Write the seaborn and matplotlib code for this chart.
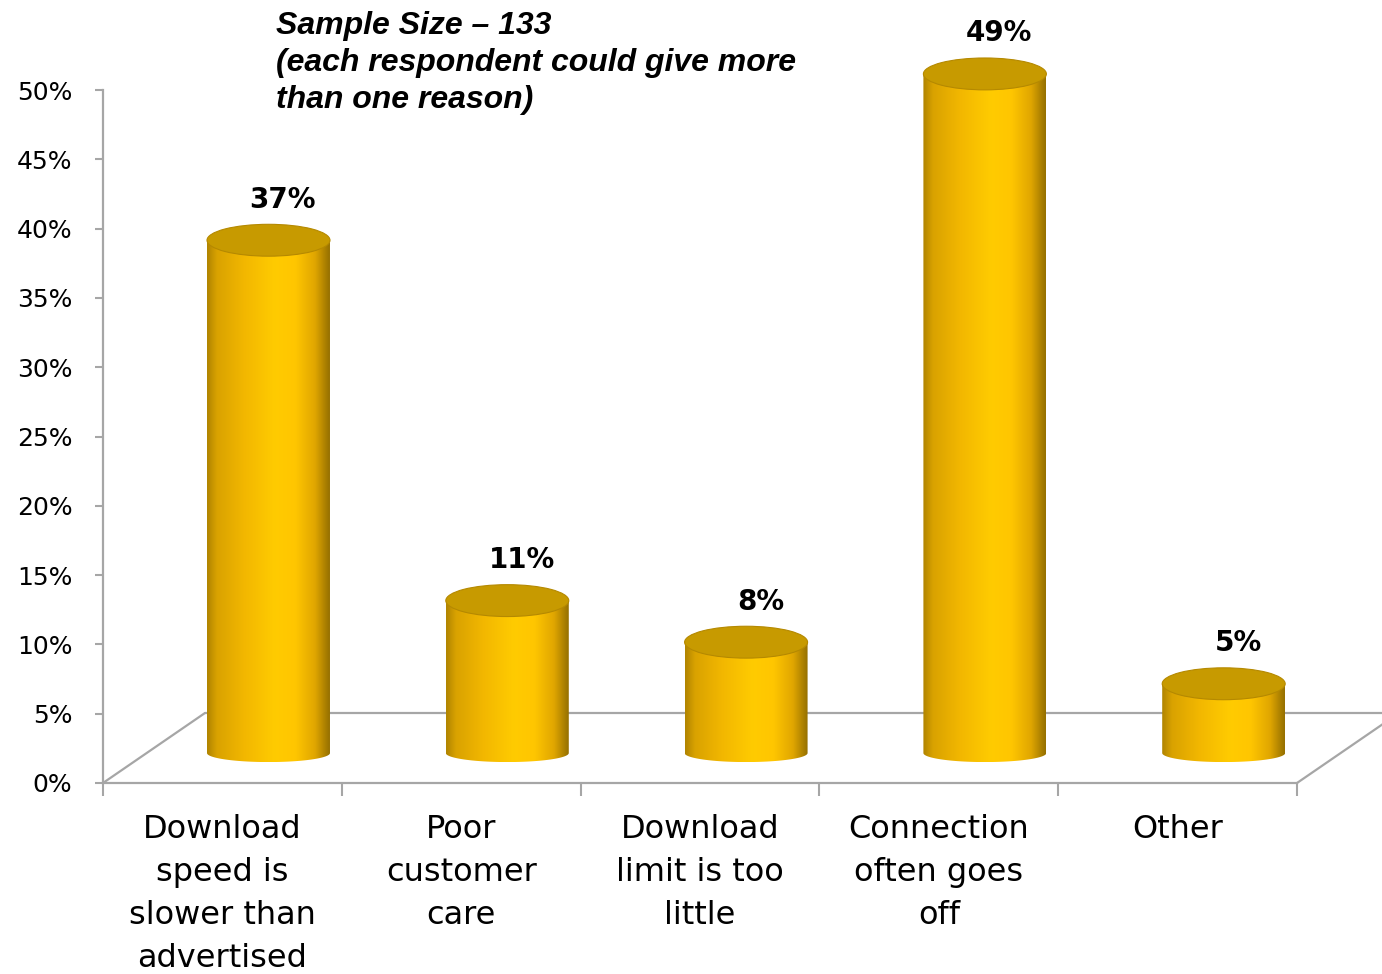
import numpy as np
import matplotlib
matplotlib.use("Agg")
import matplotlib.pyplot as plt
import seaborn as sns
from matplotlib.patches import Ellipse, PathPatch
from matplotlib.path import Path
from matplotlib.colors import LinearSegmentedColormap

# === DATA ===
categories = [
    "Download\nspeed is\nslower than\nadvertised",
    "Poor\ncustomer\ncare",
    "Download\nlimit is too\nlittle",
    "Connection\noften goes\noff",
    "Other",
]
values = [0.37, 0.11, 0.08, 0.49, 0.05]
value_labels = ["37%", "11%", "8%", "49%", "5%"]
y_ticks = [0, 0.05, 0.10, 0.15, 0.20, 0.25, 0.30, 0.35, 0.40, 0.45, 0.50]
y_tick_labels = ["0%", "5%", "10%", "15%", "20%", "25%", "30%", "35%", "40%", "45%", "50%"]
title_text = "Sample Size \u2013 133\n(each respondent could give more\nthan one reason)"

# === 3D LOOK (pseudo perspective) ===
depth_dx, depth_dy = 0.427, 0.0505      # floor depth in data units
bar_shift, bar_width = 0.193, 0.515
base = 0.0216                            # cylinder bottom (mid depth)
top_h, bot_h = 0.0115, 0.0065            # half heights of ellipses
gray = "#A6A6A6"

sns.set_style("white")
plt.rcParams["font.family"] = ["DejaVu Sans"]
plt.rcParams["text.color"] = "black"
plt.rcParams["xtick.labelcolor"] = "black"
plt.rcParams["ytick.labelcolor"] = "black"

fig = plt.figure(figsize=(13.82, 9.74), dpi=100)
ax = fig.add_axes([103 / 1382, (974 - 783) / 974, 1194 / 1382, 693 / 974])

sns.barplot(x=list(range(len(values))), y=values, ax=ax, width=bar_width)

gold = LinearSegmentedColormap.from_list("gold", [
    (0.00, "#B08400"), (0.08, "#D9A200"), (0.30, "#F2B700"),
    (0.55, "#FFCB00"), (0.72, "#FFC600"), (0.88, "#E0A600"), (1.00, "#957000")])
grad = np.linspace(0, 1, 256).reshape(1, -1)

for i, p in enumerate(ax.patches):
    p.set_x(p.get_x() + bar_shift)
    p.set_y(base)
    p.set_visible(False)
    x0, w, h = p.get_x(), p.get_width(), p.get_height()
    x1, cx = x0 + w, x0 + w / 2
    ytop = base + h
    # body outline: straight sides + lower half of bottom ellipse
    t = np.linspace(np.pi, 2 * np.pi, 60)
    pts = [(x0, ytop), (x0, base)]
    pts += [(cx + w / 2 * np.cos(a), base + bot_h * np.sin(a)) for a in t]
    pts += [(x1, base), (x1, ytop), (x0, ytop)]
    clip = PathPatch(Path(pts), transform=ax.transData, facecolor="none", edgecolor="none")
    im = ax.imshow(grad, cmap=gold, aspect="auto", extent=[x0, x1, base - bot_h, ytop],
                   interpolation="bicubic", zorder=3)
    im.set_clip_path(clip)
    im.set_clip_box(fig.bbox)
    ax.add_patch(Ellipse((cx, ytop), w, 2 * top_h, facecolor="#C79A00",
                         edgecolor="#B58900", lw=0.8, zorder=4, clip_on=False))
    ax.text(cx + 0.06, ytop + top_h + 0.012, value_labels[i], ha="center", va="baseline",
            fontsize=20, fontweight="bold", color="black", zorder=5)

# floor lines
ax.plot([-0.5 + depth_dx, 4.5 + depth_dx + 0.3], [depth_dy, depth_dy], color=gray, lw=1.6,
        zorder=1, clip_on=False)
ax.plot([-0.5, -0.5 + depth_dx], [0, depth_dy], color=gray, lw=1.6, zorder=1, clip_on=False)
ax.plot([4.5, 4.5 + depth_dx], [0, depth_dy], color=gray, lw=1.6, zorder=1, clip_on=False)

ax.set_xlim(-0.5, 4.5)
ax.set_ylim(0, 0.5)

for s in ["top", "right"]:
    ax.spines[s].set_visible(False)
for s in ["left", "bottom"]:
    ax.spines[s].set_color(gray)
    ax.spines[s].set_linewidth(1.6)

ax.set_yticks(y_ticks)
ax.set_yticklabels(y_tick_labels, fontsize=18)
ax.tick_params(axis="y", direction="out", length=6, width=1.5, color=gray, pad=16, left=True)

ax.set_xticks([-0.5, 0.5, 1.5, 2.5, 3.5, 4.5])
ax.set_xticklabels([])
ax.set_xticks(range(len(categories)), minor=True)
ax.set_xticklabels(categories, minor=True, fontsize=23, linespacing=1.5)
ax.tick_params(axis="x", which="major", direction="out", length=9, width=1.5, color=gray,
               bottom=True)
ax.tick_params(axis="x", which="minor", length=0, pad=22)
ax.set_xlabel("")
ax.set_ylabel("")
ax.grid(False)

fig.text(276 / 1382, 1 - 11 / 974, title_text, ha="left", va="top", fontsize=23,
         fontweight="bold", fontstyle="italic", family="Liberation Sans", linespacing=1.3,
         color="black")

fig.savefig("out.png", dpi=100)
